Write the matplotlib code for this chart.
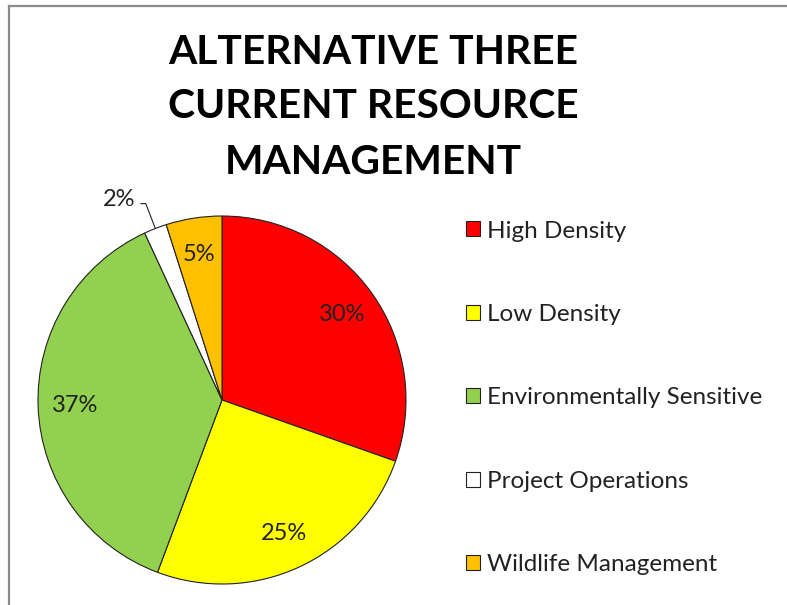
import matplotlib
matplotlib.use('Agg')
import matplotlib.pyplot as plt
from matplotlib.lines import Line2D
import numpy as np

plt.rcParams['font.family'] = ['Lato', 'DejaVu Sans']

# slice data, clockwise from 12 o'clock
CATEGORIES = ['High Density', 'Low Density', 'Environmentally Sensitive',
              'Project Operations', 'Wildlife Management']
SHARES = [30.4, 25.3, 37.4, 2.0, 4.9]
COLORS = ['#FF0000', '#FFFF00', '#92D050', '#FFFFFF', '#FFC000']
TITLE = 'ALTERNATIVE THREE\nCURRENT RESOURCE\nMANAGEMENT'

W, H = 787, 605
fig = plt.figure(figsize=(W / 100, H / 100), dpi=100)

# chart frame (only top and left edges visible)
fig.add_artist(Line2D([8.5 / W, 8.5 / W], [0, 1 - 6 / H], transform=fig.transFigure,
                      color='#8c8c8c', lw=1.6))
fig.add_artist(Line2D([8.5 / W, 1], [1 - 6 / H, 1 - 6 / H], transform=fig.transFigure,
                      color='#8c8c8c', lw=1.6))

cx, cy, r = 222, 400, 184
ax = fig.add_axes([(cx - r) / W, (H - cy - r) / H, 2 * r / W, 2 * r / H])

wedges, texts, autotexts = ax.pie(
    SHARES, colors=COLORS, startangle=90, counterclock=False,
    autopct='%.0f%%', pctdistance=0.8,
    wedgeprops=dict(edgecolor='#222222', linewidth=0.8),
    textprops=dict(fontsize=17, color='#222222'))
ax.set_xlim(-1, 1)
ax.set_ylim(-1, 1)
ax.set_aspect('auto')
ax.axis('off')

# the small slice gets its label outside with a leader line
small = wedges[3]
autotexts[3].set_visible(False)
mid = np.deg2rad((small.theta1 + small.theta2) / 2)
ax.annotate(autotexts[3].get_text(), xy=(np.cos(mid), np.sin(mid)),
            xytext=(-0.56, 1.09), ha='center', va='center', fontsize=17,
            color='#222222', annotation_clip=False,
            arrowprops=dict(arrowstyle='-', color='#222222', lw=0.8,
                            relpos=(1, 0.3), shrinkA=2, shrinkB=0,
                            connectionstyle='angle,angleA=0,angleB=111,rad=0'))

fig.text(373 / W, 1 - 107 / H, TITLE, ha='center', va='center',
         fontsize=29.3, fontweight='bold', linespacing=1.6, color='black')

fig.legend(wedges, CATEGORIES, loc='upper left',
           bbox_to_anchor=(466 / W, 1 - 220.5 / H), frameon=False,
           fontsize=17.5, handlelength=0.58, handleheight=0.58,
           handletextpad=0.3, labelspacing=2.57, borderpad=0,
           borderaxespad=0, labelcolor='#222222')

fig.savefig('out.png', dpi=100)
